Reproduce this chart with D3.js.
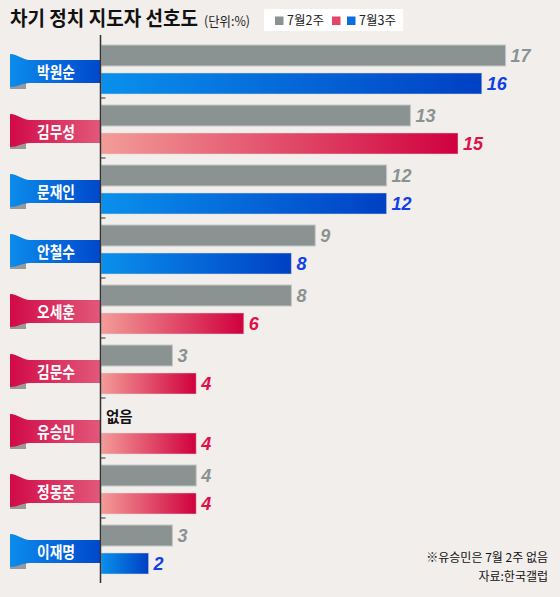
<!DOCTYPE html>
<html><head><meta charset="utf-8">
<script src="https://cdn.jsdelivr.net/npm/d3@7"></script>
<style>
html,body{margin:0;padding:0;background:#f1eeeb;}
svg{display:block;}
</style></head>
<body>
<script>
const names = ["박원순","김무성","문재인","안철수","오세훈","김문수","유승민","정몽준","이재명"];
const week2 = [17,13,12,9,8,3,null,4,3];
const week3 = [16,15,12,8,6,4,4,4,2];
const party = ["blue","red","blue","blue","red","red","red","red","blue"];
const seriesKeys = ["7월2주","7월3주"];
const title = "차기 정치 지도자 선호도";
const unit = "(단위:%)";
const noteLines = ["※유승민은 7월 2주 없음","자료:한국갤럽"];
const missingLabel = "없음";

const W=560,H=597;
const KR = "'Noto Sans CJK KR','Noto Sans',sans-serif";
const NUM = "'Liberation Sans',Arial,sans-serif";
const svg = d3.select("body").append("svg").attr("width",W).attr("height",H);
const defs = svg.append("defs");
function grad(id, c0, c1){
  const g = defs.append("linearGradient").attr("id",id).attr("x1","0").attr("x2","1").attr("y1","0").attr("y2","0");
  g.append("stop").attr("offset","0").attr("stop-color",c0);
  g.append("stop").attr("offset","1").attr("stop-color",c1);
}
grad("barBlue","#0a90ec","#0040c4");
grad("barRed","#f39c98","#d0003e");
grad("ribBlue","#0c8ceb","#0048cc");
grad("ribRed","#d10a47","#e2587a");

svg.append("rect").attr("width",W).attr("height",H).attr("fill","#f1eeeb");

const x = d3.scaleLinear().domain([0,17]).range([101,101+17*23.8]);
const y = d3.scaleBand().domain(names).range([38,578]).paddingInner(0);
const yi = d3.scaleBand().domain(seriesKeys).range([7,56]).paddingInner(0.25);

const colors = {gray:"#8b9292", blueText:"#1040e6", redText:"#e0104a"};

// title
svg.append("text").attr("x",10).attr("y",26).attr("font-family",KR).attr("font-weight","bold")
  .attr("font-size",20).attr("fill","#111").attr("textLength",188).attr("lengthAdjust","spacingAndGlyphs").text(title);
svg.append("text").attr("x",204).attr("y",25.5).attr("font-family",KR)
  .attr("font-size",13).attr("fill","#222").attr("textLength",46).attr("lengthAdjust","spacingAndGlyphs").text(unit);

// legend
const lg = svg.append("g");
lg.append("rect").attr("x",264).attr("y",9).attr("width",139).attr("height",22).attr("fill","#fff");
lg.append("rect").attr("x",275).attr("y",16.5).attr("width",8.5).attr("height",8.5).attr("fill",colors.gray);
lg.append("text").attr("x",287).attr("y",25).attr("font-family",KR).attr("font-size",12.5).attr("fill","#222").text(seriesKeys[0]);
lg.append("rect").attr("x",332).attr("y",16.5).attr("width",8.5).attr("height",8.5).attr("fill","#e2476a");
lg.append("rect").attr("x",347).attr("y",16.5).attr("width",8.5).attr("height",8.5).attr("fill","#0a6ee0");
lg.append("text").attr("x",359).attr("y",25).attr("font-family",KR).attr("font-size",12.5).attr("fill","#222").text(seriesKeys[1]);

// groups
const groups = svg.selectAll("g.grp").data(names.map((n,i)=>({n,i,w2:week2[i],w3:week3[i],p:party[i]})))
  .enter().append("g").attr("class","grp").attr("transform",d=>`translate(0,${y(d.n)})`);

// ribbons
groups.each(function(d){
  const g = d3.select(this);
  const top = 22, bot = 45;
  g.append("path").attr("d",`M10,${bot-2} L10,${bot+6} L26,${bot+6} L26,${bot} Z`).attr("fill","#9a9a9a");
  g.append("path").attr("d",`M10,${top-6} C18,${top-6} 22,${top} 30,${top} L100,${top} L100,${bot} L30,${bot} C22,${bot} 18,${bot+4} 10,${bot+4} Z`)
    .attr("fill", d.p==="blue"?"url(#ribBlue)":"url(#ribRed)");
  g.append("text").attr("x",37).attr("y",(top+bot)/2+6)
    .attr("font-family",KR).attr("font-weight","bold").attr("font-size",16).attr("fill","#fff")
    .attr("textLength",38).attr("lengthAdjust","spacingAndGlyphs").text(d.n);
});

// bars
groups.each(function(d){
  const g = d3.select(this);
  const bw = yi.bandwidth();
  if(d.w2!=null){
    g.append("rect").attr("x",x(0)).attr("y",yi(seriesKeys[0])).attr("width",x(d.w2)-x(0)).attr("height",bw)
      .attr("fill",colors.gray).attr("stroke","#c3c7c7").attr("stroke-width",1);
    g.append("text").attr("x",x(d.w2)+5).attr("y",yi(seriesKeys[0])+bw/2+6.5)
      .attr("font-family",NUM).attr("font-weight","bold").attr("font-style","italic").attr("font-size",18)
      .attr("fill",colors.gray).text(d.w2);
  } else {
    g.append("text").attr("x",106).attr("y",yi(seriesKeys[0])+bw/2+6)
      .attr("font-family",KR).attr("font-weight","bold").attr("font-size",14.5).attr("fill","#111").text(missingLabel);
  }
  g.append("rect").attr("x",x(0)).attr("y",yi(seriesKeys[1])).attr("width",x(d.w3)-x(0)).attr("height",bw)
    .attr("fill",d.p==="blue"?"url(#barBlue)":"url(#barRed)").attr("stroke","#ddd").attr("stroke-opacity",0.5).attr("stroke-width",1);
  g.append("text").attr("x",x(d.w3)+5).attr("y",yi(seriesKeys[1])+bw/2+6.5)
    .attr("font-family",NUM).attr("font-weight","bold").attr("font-style","italic").attr("font-size",18)
    .attr("fill",d.p==="blue"?colors.blueText:colors.redText).text(d.w3);
});

// axis
svg.append("line").attr("x1",100.5).attr("x2",100.5).attr("y1",35).attr("y2",583).attr("stroke","#333").attr("stroke-width",1.5);
const tickYs = names.slice(0,-1).map(n=>y(n)+y.bandwidth());
svg.selectAll("line.tk").data(tickYs).enter().append("line").attr("class","tk")
  .attr("x1",100.5).attr("x2",105.5).attr("y1",d=>d).attr("y2",d=>d).attr("stroke","#333").attr("stroke-width",1);

// notes
svg.append("text").attr("x",548).attr("y",562).attr("text-anchor","end").attr("font-family",KR)
  .attr("font-size",12).attr("fill","#111").text(noteLines[0]);
svg.append("text").attr("x",548).attr("y",581).attr("text-anchor","end").attr("font-family",KR)
  .attr("font-size",12).attr("fill","#111").text(noteLines[1]);
</script>
</body></html>
